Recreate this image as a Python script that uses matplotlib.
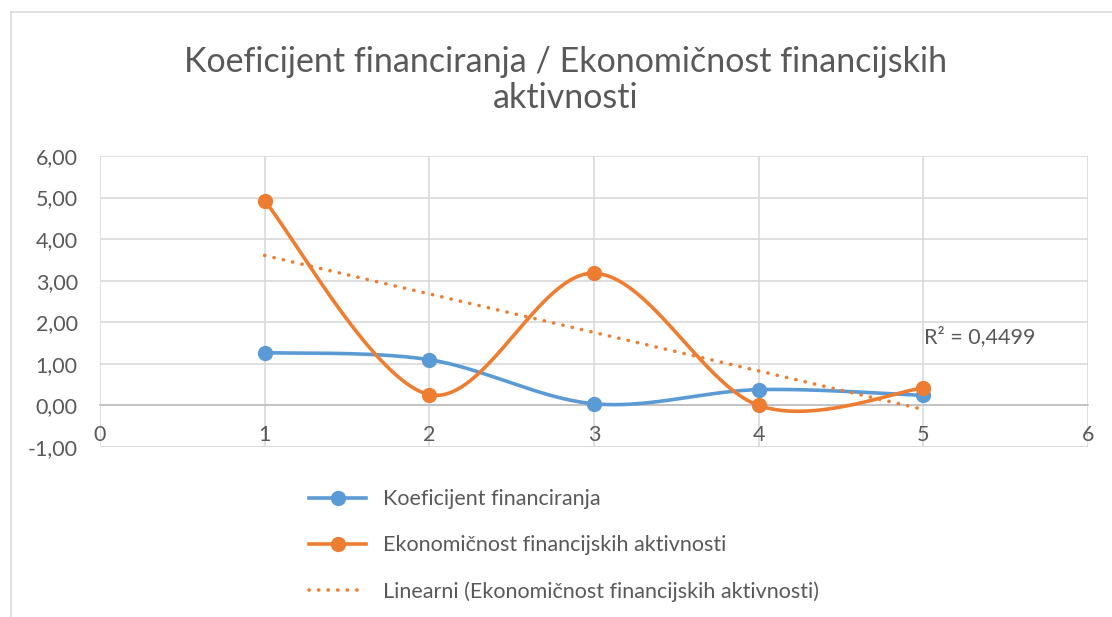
import numpy as np
import matplotlib
matplotlib.use("Agg")
import matplotlib.pyplot as plt
from matplotlib.lines import Line2D

plt.rcParams['font.family'] = ['Lato', 'DejaVu Sans']

x_vals = [1, 2, 3, 4, 5]
koef_fin = [1.27, 1.10, 0.04, 0.38, 0.24]
ekon_fin = [4.92, 0.26, 3.18, 0.00, 0.42]
series_names = ["Koeficijent financiranja", "Ekonomičnost financijskih aktivnosti",
                "Linearni (Ekonomičnost financijskih aktivnosti)"]
title = "Koeficijent financiranja / Ekonomičnost financijskih\naktivnosti"
r2_label = "R² = 0,4499"
x_ticks = [0, 1, 2, 3, 4, 5, 6]
y_ticks = [-1, 0, 1, 2, 3, 4, 5, 6]

BLUE = "#5B9BD5"
ORANGE = "#ED7D31"
TXT = "#595959"
GRID = "#D9D9D9"
DOTS = (0, (0.05, 2.6))


def smooth(xs, ys, n=60):
    P = np.column_stack([xs, ys]).astype(float)
    out = []
    for i in range(len(P) - 1):
        p0 = P[i - 1] if i > 0 else P[i]
        p1 = P[i]
        p2 = P[i + 1]
        p3 = P[i + 2] if i + 2 < len(P) else P[i + 1]
        c1 = p1 + (p2 - p0) / 6.0
        c2 = p2 - (p3 - p1) / 6.0
        t = np.linspace(0, 1, n)[:, None]
        seg = ((1 - t) ** 3) * p1 + 3 * ((1 - t) ** 2) * t * c1 + 3 * (1 - t) * t ** 2 * c2 + t ** 3 * p2
        out.append(seg if i == 0 else seg[1:])
    s = np.vstack(out)
    return s[:, 0], s[:, 1]


W, H = 1112, 617
fig = plt.figure(figsize=(W / 100, H / 100), dpi=100)
ax = fig.add_axes([100 / W, 1 - 447 / H, (1088 - 100) / W, (447 - 156) / H])

ax.set_xlim(0, 6)
ax.set_ylim(-1, 6)
ax.set_xticks(x_ticks)
ax.set_yticks(y_ticks)
ax.set_xticklabels([str(v) for v in x_ticks])
ax.set_yticklabels([f"{v:.2f}".replace(".", ",") for v in y_ticks])
ax.grid(True, color=GRID, linewidth=1.2, zorder=0)
ax.set_axisbelow(True)
for s in ["top", "right", "left"]:
    ax.spines[s].set_visible(False)
ax.spines["bottom"].set_position(("data", 0))
ax.spines["bottom"].set_color("#BFBFBF")
ax.spines["bottom"].set_linewidth(1.2)
ax.tick_params(axis="both", length=0, labelsize=15.5, labelcolor=TXT)
ax.tick_params(axis="x", pad=14)
ax.tick_params(axis="y", pad=16)
ax.axhline(-1, color=GRID, linewidth=1.2, zorder=0)

sx, sy = smooth(x_vals, koef_fin)
ax.plot(sx, sy, color=BLUE, linewidth=2.6, zorder=3, solid_capstyle="round")
ax.plot(x_vals, koef_fin, "o", color=BLUE, markersize=10, zorder=4)

sx, sy = smooth(x_vals, ekon_fin)
ax.plot(sx, sy, color=ORANGE, linewidth=2.6, zorder=5, solid_capstyle="round")
ax.plot(x_vals, ekon_fin, "o", color=ORANGE, markersize=10, zorder=6)

coef = np.polyfit(x_vals, ekon_fin, 1)
tx = np.array([x_vals[0], x_vals[-1]])
ax.plot(tx, np.polyval(coef, tx), color=ORANGE, linewidth=2.6, linestyle=DOTS,
        dash_capstyle="round", zorder=4)

fig.text(924 / W, 1 - 337 / H, r2_label, fontsize=15.5, color=TXT, ha="left", va="center")

fig.text(566 / W, 1 - 80 / H, title, fontsize=24.5, color=TXT, ha="center", va="center",
         linespacing=1.17)

handles = [
    Line2D([], [], color=BLUE, linewidth=2.6, marker="o", markersize=10),
    Line2D([], [], color=ORANGE, linewidth=2.6, marker="o", markersize=10),
    Line2D([], [], color=ORANGE, linewidth=2.6, linestyle=DOTS, dash_capstyle="round"),
]
fig.legend(handles, series_names, loc="upper left", bbox_to_anchor=(290 / W, 1 - 470 / H),
           frameon=False, fontsize=15.5, labelcolor=TXT, handlelength=2.65, handletextpad=0.75,
           labelspacing=1.2)

fig.add_artist(Line2D([10.5 / W, 10.5 / W], [0, 1 - 12 / H], transform=fig.transFigure,
                      color=GRID, linewidth=1.2))
fig.add_artist(Line2D([10.5 / W, 1], [1 - 12 / H, 1 - 12 / H], transform=fig.transFigure,
                      color=GRID, linewidth=1.2))

fig.savefig("out.png", dpi=100)
